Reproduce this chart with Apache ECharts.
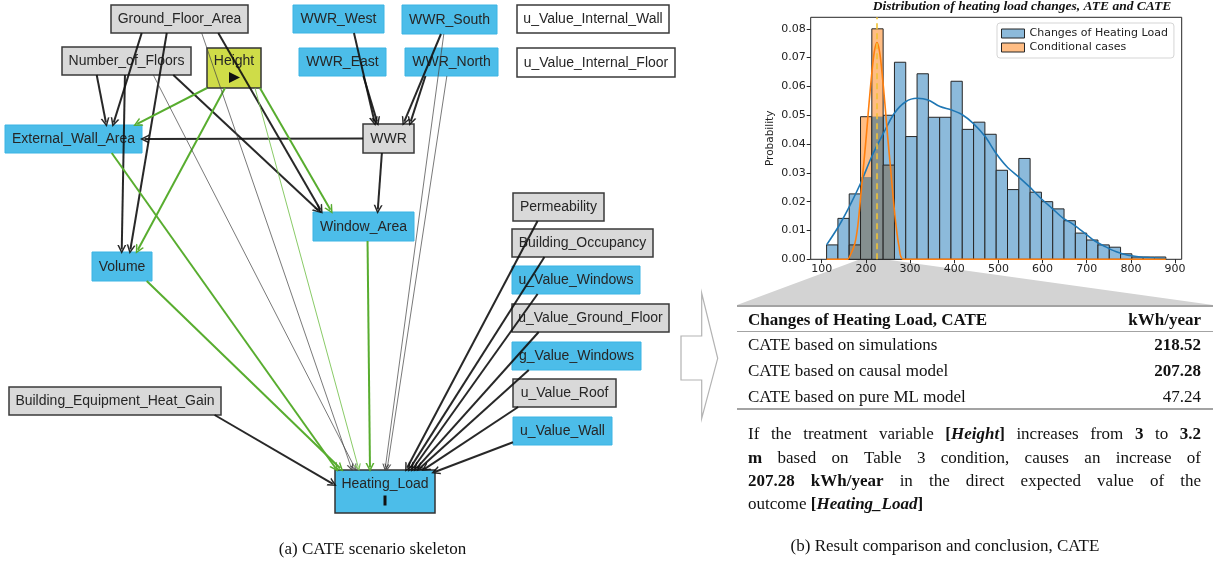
<!DOCTYPE html>
<html><head><meta charset="utf-8">
<script src="https://cdn.jsdelivr.net/npm/echarts@6/dist/echarts.min.js"></script>
<style>html,body{margin:0;padding:0;background:#fff}#c{width:1225px;height:565px}</style>
</head><body><div id="c"></div>
<script>
// ================= DATA =================
// Causal graph nodes: [name, group]
const nodes = [
  ['Ground_Floor_Area','grey'], ['Number_of_Floors','grey'], ['Height','treatment'],
  ['External_Wall_Area','blue'], ['Volume','blue'],
  ['WWR_West','blue'], ['WWR_South','blue'], ['u_Value_Internal_Wall','white'],
  ['WWR_East','blue'], ['WWR_North','blue'], ['u_Value_Internal_Floor','white'],
  ['WWR','grey'], ['Window_Area','blue'],
  ['Permeability','grey'], ['Building_Occupancy','grey'], ['u_Value_Windows','blue'],
  ['u_Value_Ground_Floor','grey'], ['g_Value_Windows','blue'], ['u_Value_Roof','grey'],
  ['u_Value_Wall','blue'], ['Building_Equipment_Heat_Gain','grey'], ['Heating_Load','outcome']
];
// Edges: [source, target, kind]  k = causal, g = treatment path, t = thin, tg = thin treatment
const edges = [
  ['Ground_Floor_Area','External_Wall_Area','k'], ['Ground_Floor_Area','Volume','k'],
  ['Number_of_Floors','External_Wall_Area','k'], ['Number_of_Floors','Volume','k'],
  ['Ground_Floor_Area','Window_Area','k'], ['Number_of_Floors','Window_Area','k'],
  ['WWR','External_Wall_Area','k'], ['WWR','Window_Area','k'],
  ['WWR_West','WWR','k'], ['WWR_East','WWR','k'], ['WWR_South','WWR','k'], ['WWR_North','WWR','k'],
  ['Permeability','Heating_Load','k'], ['Building_Occupancy','Heating_Load','k'],
  ['u_Value_Windows','Heating_Load','k'], ['u_Value_Ground_Floor','Heating_Load','k'],
  ['g_Value_Windows','Heating_Load','k'], ['u_Value_Roof','Heating_Load','k'],
  ['u_Value_Wall','Heating_Load','k'], ['Building_Equipment_Heat_Gain','Heating_Load','k'],
  ['Height','External_Wall_Area','g'], ['Height','Volume','g'], ['Height','Window_Area','g'],
  ['External_Wall_Area','Heating_Load','g'], ['Volume','Heating_Load','g'], ['Window_Area','Heating_Load','g'],
  ['Ground_Floor_Area','Heating_Load','t'], ['Number_of_Floors','Heating_Load','t'],
  ['WWR_South','Heating_Load','t'], ['WWR_North','Heating_Load','t'],
  ['Height','Heating_Load','tg']
];

// Histogram
const binEdges = [111,136.6,162.2,187.8,213.4,239,264.6,290.2,315.8,341.4,367,392.6,418.2,443.8,469.4,495,
  520.6,546.2,571.8,597.4,623,648.6,674.2,699.8,725.4,751,776.6,802.2,827.8,853.4,879];
const heatingLoadProb = [0.0050,0.0142,0.0227,0.0285,0.0495,0.0500,0.0684,0.0426,0.0644,0.0493,0.0493,0.0618,
  0.0451,0.0476,0.0434,0.0309,0.0242,0.0350,0.0233,0.0200,0.0175,0.0134,0.0091,0.0067,0.0050,0.0042,0.0019,0.0008,0.0008,0.0008];
const conditionalProb = [0,0,0.0050,0.0495,0.0800,0.0327,0,0,0,0,0,0,0,0,0,0,0,0,0,0,0,0,0,0,0,0,0,0,0,0];
const kdeX = [111,137.6,162.5,188,213,239.5,264.4,290,315.8,341,367.7,394,419,443,470,494.6,518.8,545,570,595.8,621.4,647,666,691,715,742,767,791,817,842,878];
const kdeY = [0.0050,0.0113,0.0183,0.0264,0.0356,0.0437,0.0507,0.0547,0.0559,0.0553,0.0530,0.0518,0.0501,0.0472,0.0426,0.0368,0.0322,0.0287,0.0252,0.0212,0.0177,0.0142,0.0125,0.0096,0.0067,0.0044,0.0026,0.0015,0.0009,0.0006,0.0003];
const condKdeX = [111,158,165,175,182,188,195,201,207,213,219,225,231,237,243,249,255,262,268,275,285,879];
const condKdeY = [0,0,0.0015,0.0055,0.012,0.0215,0.033,0.043,0.054,0.064,0.072,0.0752,0.072,0.064,0.054,0.043,0.033,0.021,0.012,0.0045,0,0];
const cateLine = 224;
const xTicks = [100,200,300,400,500,600,700,800,900];
const yTicks = [0,0.01,0.02,0.03,0.04,0.05,0.06,0.07,0.08];
const seriesNames = ['Changes of Heating Load','Conditional cases'];
const histTitle = 'Distribution of heating load changes, ATE and CATE';

// Table
const tableHeader = ['Changes of Heating Load, CATE','kWh/year'];
const tableRows = [
  ['CATE based on simulations','218.52',true],
  ['CATE based on causal model','207.28',true],
  ['CATE based on pure ML model','47.24',false]
];
// Paragraph: lines -> words -> segments [text, style]
const paragraph = [
  [[['If','n']],[['the','n']],[['treatment','n']],[['variable','n']],[['[','b'],['Height','bi'],[']','b']],[['increases','n']],[['from','n']],[['3','b']],[['to','n']],[['3.2','b']]],
  [[['m','b']],[['based','n']],[['on','n']],[['Table','n']],[['3','n']],[['condition,','n']],[['causes','n']],[['an','n']],[['increase','n']],[['of','n']]],
  [[['207.28','b']],[['kWh/year','b']],[['in','n']],[['the','n']],[['direct','n']],[['expected','n']],[['value','n']],[['of','n']],[['the','n']]],
  [[['outcome','n']],[['[','b'],['Heating_Load','bi'],[']','b']]]
];
const captionA = '(a) CATE scenario skeleton';
const captionB = '(b) Result comparison and conclusion, CATE';

// ================= LAYOUT / STYLE =================
const nodeBoxes = {
  'Ground_Floor_Area':[111,5,248,33], 'Number_of_Floors':[62,47,191,75], 'Height':[207,48,261,88],
  'External_Wall_Area':[5,125,142,153], 'Volume':[92,252,152,281],
  'WWR_West':[293,5,384,33], 'WWR_South':[402,5,497,34], 'u_Value_Internal_Wall':[517,5,669,33],
  'WWR_East':[299,48,386,76], 'WWR_North':[405,48,498,76], 'u_Value_Internal_Floor':[517,48,675,77],
  'WWR':[363,124,414,153], 'Window_Area':[313,212,414,241],
  'Permeability':[513,193,604,221], 'Building_Occupancy':[512,229,653,257], 'u_Value_Windows':[512,266,640,294],
  'u_Value_Ground_Floor':[512,304,669,332], 'g_Value_Windows':[512,342,641,370], 'u_Value_Roof':[513,379,616,407],
  'u_Value_Wall':[513,417,612,445], 'Building_Equipment_Heat_Gain':[9,387,221,415], 'Heating_Load':[335,470,435,513]
};
// Edge attachment points as fractions of the source / target boxes: [sx, sy, tx, ty]
const edgePorts = {
  'Ground_Floor_Area>External_Wall_Area':[0.224,1,0.788,0],
  'Number_of_Floors>External_Wall_Area':[0.269,1,0.74,0],
  'Ground_Floor_Area>Volume':[0.407,1,0.633,0],
  'Number_of_Floors>Volume':[0.488,1,0.495,0],
  'Height>External_Wall_Area':[0,1,0.949,0],
  'Height>Volume':[0.333,1,0.745,0],
  'Height>Window_Area':[0.98,1,0.185,0],
  'Ground_Floor_Area>Window_Area':[0.783,1,0.086,0],
  'Number_of_Floors>Window_Area':[0.863,1,0.07,0],
  'WWR>External_Wall_Area':[0,0.5,1,0.5],
  'WWR>Window_Area':[0.37,1,0.64,0],
  'WWR_West>WWR':[0.67,1,0.235,0],
  'WWR_East>WWR':[0.74,1,0.29,0],
  'WWR_South>WWR':[0.41,1,0.79,0],
  'WWR_North>WWR':[0.22,1,0.92,0],
  'WWR_South>Heating_Load':[0.44,1,0.5,0],
  'WWR_North>Heating_Load':[0.45,1,0.52,0],
  'Ground_Floor_Area>Heating_Load':[0.662,1,0.17,0],
  'Number_of_Floors>Heating_Load':[0.708,1,0.21,0],
  'Height>Heating_Load':[0.889,1,0.24,0],
  'External_Wall_Area>Heating_Load':[0.779,1,0.02,0],
  'Volume>Heating_Load':[0.912,1,0.07,0],
  'Window_Area>Heating_Load':[0.54,1,0.35,0],
  'Permeability>Heating_Load':[0.27,1,0.71,0],
  'Building_Occupancy>Heating_Load':[0.23,1,0.74,0],
  'u_Value_Windows>Heating_Load':[0.2,1,0.77,0],
  'u_Value_Ground_Floor>Heating_Load':[0.17,1,0.8,0],
  'g_Value_Windows>Heating_Load':[0.13,1,0.83,0],
  'u_Value_Roof>Heating_Load':[0.05,1,0.88,0],
  'u_Value_Wall>Heating_Load':[0,0.9,0.98,0.06],
  'Building_Equipment_Heat_Gain>Heating_Load':[0.97,1,0,0.35]
};
const groupStyle = {
  grey:{fill:'#d9d9d9', stroke:'#3a3a3a', lineWidth:1.5},
  white:{fill:'#ffffff', stroke:'#3a3a3a', lineWidth:1.5},
  blue:{fill:'#4cbde9', stroke:'#3ab4e4', lineWidth:1},
  treatment:{fill:'#cfdc48', stroke:'#333333', lineWidth:1.5},
  outcome:{fill:'#4cbde9', stroke:'#333333', lineWidth:1.5}
};
const edgeStyle = {
  k:{color:'#111111', width:2, size:9, opacity:0.9},
  g:{color:'#58ad2f', width:2, size:9, opacity:1},
  t:{color:'#444444', width:0.8, size:7, opacity:0.9},
  tg:{color:'#7cc456', width:0.9, size:7, opacity:1}
};
const chevron = 'path://M0,10L5,0L10,10L8.2,10L5,3.6L1.8,10Z';
const nodeFont = '14px "Liberation Sans"';

function boxInfo(n){const b=nodeBoxes[n];return {x0:b[0],y0:b[1],cx:(b[0]+b[2])/2,cy:(b[1]+b[3])/2,hw:(b[2]-b[0])/2,hh:(b[3]-b[1])/2,w:b[2]-b[0],h:b[3]-b[1]};}
function exitPt(B,dx,dy){
  const tx = dx!==0 ? B.hw/Math.abs(dx) : Infinity;
  const ty = dy!==0 ? B.hh/Math.abs(dy) : Infinity;
  const t = Math.min(tx,ty); return [B.cx+dx*t, B.cy+dy*t];
}
function edgeCoords(s,t){
  const S=boxInfo(s), T=boxInfo(t);
  const port = edgePorts[s+'>'+t];
  let a,b;
  if(port){
    a=[S.x0+port[0]*S.w, S.y0+port[1]*S.h];
    b=[T.x0+port[2]*T.w, T.y0+port[3]*T.h];
  } else {
    const dx=T.cx-S.cx, dy=T.cy-S.cy;
    a=exitPt(S,dx,dy); b=exitPt(T,-dx,-dy);
  }
  const dx=b[0]-a[0], dy=b[1]-a[1], L=Math.hypot(dx,dy);
  return [a,[b[0]-dx/L*2.5, b[1]-dy/L*2.5]];
}

const nodeData = nodes.map(([name])=>{const b=nodeBoxes[name];return {name, value:[b[0],b[1],b[2],b[3]]};});

function renderNode(params, api){
  const [name, group] = nodes[params.dataIndex];
  const p0 = api.coord([api.value(0), api.value(1)]), p1 = api.coord([api.value(2), api.value(3)]);
  const x=p0[0], y=p0[1], w=p1[0]-p0[0], h=p1[1]-p0[1], cx=x+w/2, cy=y+h/2;
  const ch=[{type:'rect', shape:{x, y, width:w, height:h}, style:Object.assign({}, groupStyle[group])}];
  const tStyle=(ty)=>({type:'text', x:cx, y:ty, style:{text:name, font:nodeFont, fill:'#262626', align:'center', textAlign:'center', verticalAlign:'middle', textVerticalAlign:'middle'}});
  if(group==='treatment'){
    ch.push(tStyle(cy-7));
    ch.push({type:'polygon', shape:{points:[[cx-5,cy+4],[cx+6,cy+9.5],[cx-5,cy+15]]}, style:{fill:'#111'}});
  } else if(group==='outcome'){
    ch.push(tStyle(cy-7.5));
    ch.push({type:'rect', shape:{x:cx-1.5, y:cy+4, width:3, height:10}, style:{fill:'#111'}});
  } else ch.push(tStyle(cy+0.5));
  return {type:'group', children:ch};
}

const edgeSeries = Object.keys(edgeStyle).map(kind=>{
  const st=edgeStyle[kind];
  return {
    type:'lines', coordinateSystem:'cartesian2d', xAxisIndex:0, yAxisIndex:0, z:4, silent:true,
    symbol:['none',chevron], symbolSize:st.size,
    lineStyle:{color:st.color, width:st.width, opacity:st.opacity, curveness:0},
    data: edges.filter(e=>e[2]===kind).map(e=>({coords:edgeCoords(e[0],e[1])}))
  };
});

// paragraph layout with canvas measurement
const mctx = document.createElement('canvas').getContext('2d');
function fontOf(k,size){return (k==='bi'?'italic bold ':k==='b'?'bold ':'')+size+'px "Liberation Serif"';}
function mw(text,k){mctx.font=fontOf(k,17);return mctx.measureText(text).width;}
const paraLeft=748, paraRight=1201, paraY=[435,458.3,481.7,505];
const graphics = [];
graphics.push({type:'polygon', z:-1, shape:{points:[[858,260],[890,260],[1213,305],[737,305]]}, style:{fill:'#d3d3d3'}});
graphics.push({type:'polygon', shape:{points:[[681,336],[701.7,336],[701.7,293.3],[717.7,358.3],[701.7,418.3],[701.7,380],[681,380]]}, style:{fill:'none', stroke:'#b3b3b3', lineWidth:1.2}});
[[306,2],[331.5,1.2],[409,2]].forEach(([y,w])=>graphics.push({type:'line', shape:{x1:737,y1:y,x2:1213,y2:y}, style:{stroke:'#a3a3a3', lineWidth:w}}));
function txt(text,x,y,k,size,align){
  return {type:'text', x, y, style:{text, font:fontOf(k,size), fill:'#111', textAlign:align||'left', align:align||'left', textVerticalAlign:'middle', verticalAlign:'middle'}};
}
graphics.push(txt(tableHeader[0],748,320.5,'b',17));
graphics.push(txt(tableHeader[1],1201,320.5,'b',17,'right'));
const rowY=[346,371.7,397.3];
tableRows.forEach((r,i)=>{graphics.push(txt(r[0],748,rowY[i],'n',17));graphics.push(txt(r[1],1201,rowY[i],r[2]?'b':'n',17,'right'));});
paragraph.forEach((line,li)=>{
  const widths=line.map(w=>w.reduce((s,seg)=>s+mw(seg[0],seg[1]),0));
  const total=widths.reduce((a,b)=>a+b,0);
  const last = li===paragraph.length-1;
  const gap = last ? mw(' ','n') : (paraRight-paraLeft-total)/(line.length-1);
  let x=paraLeft;
  line.forEach((w,wi)=>{
    let sx=x;
    w.forEach(seg=>{graphics.push(txt(seg[0],sx,paraY[li],seg[1],17));sx+=mw(seg[0],seg[1]);});
    x+=widths[wi]+gap;
  });
});
graphics.push(txt(captionA,372.5,550,'n',17,'center'));
graphics.push(txt(captionB,945,546.7,'n',17,'center'));
graphics.push(txt(histTitle,1022,6.5,'bi',13.5,'center'));

const histBars = heatingLoadProb.map((v,i)=>[binEdges[i],binEdges[i+1],v]);
const condBars = conditionalProb.map((v,i)=>[binEdges[i],binEdges[i+1],v,heatingLoadProb[i]]);

const axisFont = {fontFamily:'DejaVu Sans', fontSize:11, color:'#222'};

const option = {
  animation:false,
  backgroundColor:'#fff',
  grid:[
    {left:0, top:0, width:1225, height:565, show:false},
    {left:810.7, top:17.3, width:371, height:242, show:true, borderColor:'#262626', borderWidth:1, backgroundColor:'transparent'}
  ],
  xAxis:[
    {gridIndex:0, type:'value', min:0, max:1225, show:false},
    {gridIndex:1, type:'value', min:75, max:915, splitLine:{show:false}, axisLine:{show:false},
     axisTick:{show:true, length:4, lineStyle:{color:'#262626'}, customValues:xTicks},
     axisLabel:Object.assign({margin:4, customValues:xTicks}, axisFont)}
  ],
  yAxis:[
    {gridIndex:0, type:'value', min:0, max:565, inverse:true, show:false},
    {gridIndex:1, type:'value', min:0, max:0.084, splitLine:{show:false}, axisLine:{show:false},
     axisTick:{show:true, length:4, lineStyle:{color:'#262626'}, customValues:yTicks},
     axisLabel:Object.assign({margin:5, customValues:yTicks, formatter:v=>v.toFixed(2)}, axisFont),
     name:'Probability', nameLocation:'middle', nameGap:35, nameRotate:90, nameTextStyle:Object.assign({}, axisFont, {fontSize:10.5})}
  ],
  legend:{
    left:997, top:23, orient:'vertical', itemWidth:23, itemHeight:9, itemGap:3,
    padding:[5,6,5,4], backgroundColor:'#fff', borderColor:'#d5d5d5', borderWidth:1, borderRadius:3,
    textStyle:{fontFamily:'DejaVu Sans', fontSize:11, color:'#222'}, selectedMode:false,
    data:[
      {name:seriesNames[0], icon:'rect', itemStyle:{color:'#8cbadb', borderColor:'#262626', borderWidth:1}},
      {name:seriesNames[1], icon:'rect', itemStyle:{color:'#ffbd84', borderColor:'#262626', borderWidth:1}}
    ]
  },
  graphic:{elements:graphics},
  series:[
    {type:'custom', name:'nodes', xAxisIndex:0, yAxisIndex:0, z:3, silent:true,
     encode:{x:[0,2], y:[1,3]}, data:nodeData, renderItem:renderNode},
    ...edgeSeries,
    {type:'custom', name:seriesNames[0], xAxisIndex:1, yAxisIndex:1, z:2,
     itemStyle:{color:'#8cbadb', borderColor:'#262626'},
     encode:{x:[0,1], y:2}, data:histBars,
     renderItem:(p,api)=>{
       const a=api.coord([api.value(0),0]), b=api.coord([api.value(1),api.value(2)]);
       return {type:'rect', shape:{x:a[0], y:b[1], width:b[0]-a[0], height:a[1]-b[1]}, style:{fill:'#8cbadb', stroke:'#262626', lineWidth:1}};
     }},
    {type:'custom', name:seriesNames[1], xAxisIndex:1, yAxisIndex:1, z:3,
     itemStyle:{color:'#ffbd84', borderColor:'#262626'},
     encode:{x:[0,1], y:2}, data:condBars,
     renderItem:(p,api)=>{
       const x0=api.value(0), x1=api.value(1), v=api.value(2), h=api.value(3);
       if(!(v>0)) return {type:'group', children:[]};
       const a=api.coord([x0,0]), top=api.coord([x1,v]), ov=api.coord([x1,Math.min(v,h)]);
       const ch=[{type:'rect', shape:{x:a[0], y:ov[1], width:ov[0]-a[0], height:a[1]-ov[1]}, style:{fill:'#858f8f'}}];
       if(v>h){ch.push({type:'rect', shape:{x:a[0], y:top[1], width:top[0]-a[0], height:ov[1]-top[1]}, style:{fill:'#ffbd84'}});}
       ch.push({type:'rect', shape:{x:a[0], y:top[1], width:top[0]-a[0], height:a[1]-top[1]}, style:{fill:'none', stroke:'#262626', lineWidth:1}});
       return {type:'group', children:ch};
     }},
    {type:'line', name:'kde', xAxisIndex:1, yAxisIndex:1, z:4, showSymbol:false, smooth:0.3, silent:true,
     lineStyle:{color:'#1f77b4', width:1.6}, data:kdeX.map((x,i)=>[x,kdeY[i]]),
     markLine:{silent:true, symbol:'none', label:{show:false}, lineStyle:{type:[6,4], color:'#f2c233', width:1.6},
       data:[{xAxis:cateLine}]}},
    {type:'line', name:'condKde', xAxisIndex:1, yAxisIndex:1, z:4, showSymbol:false, smooth:0.3, silent:true,
     lineStyle:{color:'#ff7f0e', width:1.6}, data:condKdeX.map((x,i)=>[x,condKdeY[i]])}
  ]
};
const chart = echarts.init(document.getElementById('c'), null, {renderer:'canvas'});
chart.setOption(option);
</script></body></html>
